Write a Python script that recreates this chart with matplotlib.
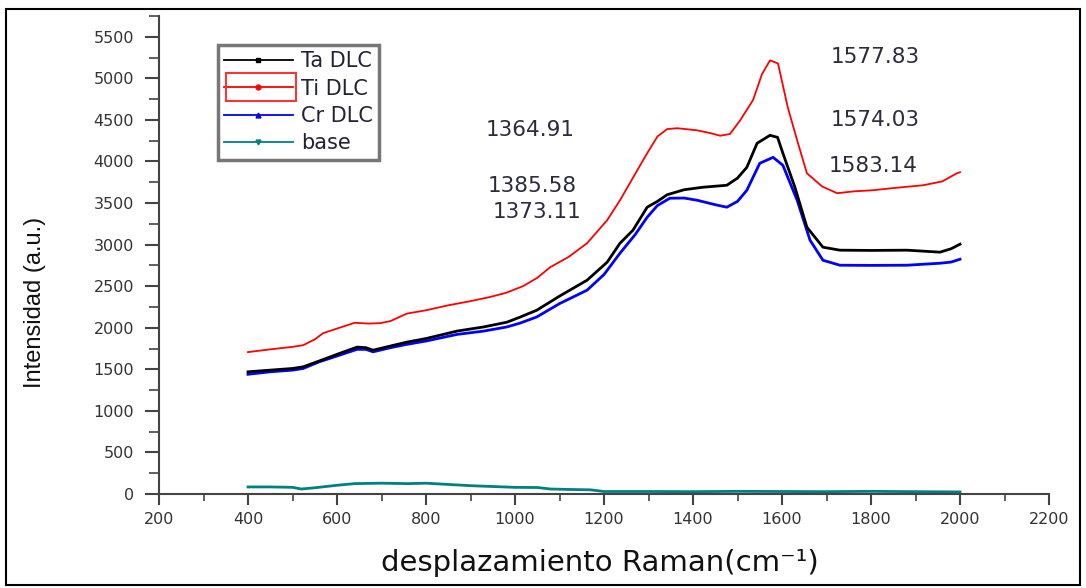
import matplotlib
matplotlib.use("Agg")
import matplotlib.pyplot as plt
from matplotlib.lines import Line2D
from matplotlib.patches import Rectangle
from matplotlib.ticker import MultipleLocator

# espectros Raman (cm-1, intensidad)
ta_x = [400, 450, 500, 524, 560, 600, 645, 665, 681, 720, 757, 800, 870, 930, 982, 1011,
        1049, 1100, 1162, 1207, 1236, 1265, 1297, 1320, 1342, 1380, 1422, 1476, 1500, 1521,
        1544, 1573, 1590, 1602, 1629, 1656, 1692, 1730, 1800, 1881, 1955, 1980, 2000]
ta_y = [1470, 1490, 1510, 1530, 1600, 1680, 1767, 1760, 1730, 1780, 1827, 1870, 1960, 2010,
        2067, 2127, 2211, 2380, 2572, 2788, 3017, 3173, 3450, 3520, 3600, 3660, 3690, 3714,
        3800, 3930, 4219, 4315, 4290, 4099, 3690, 3209, 2969, 2933, 2930, 2933, 2909, 2950, 3005]

ti_x = [400, 450, 500, 524, 550, 569, 600, 640, 670, 697, 720, 757, 800, 850, 900, 944, 980,
        1018, 1050, 1079, 1120, 1162, 1207, 1236, 1270, 1297, 1320, 1342, 1365, 1409, 1440,
        1461, 1483, 1506, 1535, 1555, 1573, 1591, 1613, 1634, 1656, 1690, 1724, 1760, 1804,
        1850, 1917, 1960, 1993, 2000]
ti_y = [1707, 1740, 1770, 1790, 1860, 1935, 1990, 2060, 2050, 2055, 2080, 2170, 2210, 2270,
        2320, 2370, 2420, 2500, 2600, 2728, 2850, 3017, 3293, 3534, 3850, 4099, 4300, 4390,
        4400, 4375, 4340, 4310, 4330, 4495, 4740, 5050, 5216, 5180, 4651, 4255, 3858, 3700,
        3618, 3640, 3654, 3680, 3714, 3760, 3858, 3870]

cr_x = [400, 450, 500, 524, 560, 600, 645, 665, 681, 720, 757, 800, 870, 930, 982, 1011,
        1049, 1100, 1162, 1200, 1236, 1270, 1297, 1320, 1348, 1380, 1409, 1450, 1476, 1500,
        1521, 1550, 1580, 1602, 1634, 1663, 1692, 1730, 1800, 1881, 1955, 1980, 2000]
cr_y = [1440, 1470, 1490, 1510, 1590, 1660, 1740, 1740, 1710, 1760, 1800, 1840, 1920, 1960,
        2010, 2055, 2130, 2290, 2452, 2640, 2897, 3120, 3329, 3470, 3558, 3560, 3534, 3480,
        3450, 3520, 3654, 3978, 4050, 3954, 3534, 3053, 2812, 2752, 2750, 2752, 2776, 2790, 2824]

base_x = [400, 450, 500, 520, 550, 600, 640, 700, 760, 800, 850, 900, 950, 1000, 1050, 1080,
          1120, 1170, 1200, 1300, 1400, 1500, 1600, 1700, 1800, 1900, 2000]
base_y = [85, 85, 80, 60, 75, 105, 125, 130, 125, 130, 115, 100, 90, 80, 78, 60, 55, 50, 30,
          30, 28, 32, 30, 28, 32, 28, 25]

etiquetas = ["Ta DLC", "Ti DLC", "Cr DLC", "base"]
colores = ["#000000", "#ff0000", "#0000ff", "#008080"]
marcadores = ["s", "o", "^", "v"]

# posiciones de los picos D y G
picos_txt = ["1577.83", "1574.03", "1583.14", "1364.91", "1385.58", "1373.11"]
picos_x = [1809, 1809, 1804, 1034, 1038, 1049]
picos_y = [5252, 4495, 3942, 4375, 3702, 3390]

fig = plt.figure(figsize=(10.86, 5.88), dpi=100)
ax = fig.add_axes([159 / 1086, 94 / 588, 890 / 1086, 478 / 588])

ax.plot(base_x, base_y, color=colores[3], lw=2)
ax.plot(cr_x, cr_y, color=colores[2], lw=2)
ax.plot(ta_x, ta_y, color=colores[0], lw=2)
ax.plot(ti_x, ti_y, color=colores[1], lw=1.3)

ax.set_xlim(200, 2200)
ax.set_ylim(0, 5750)
ax.xaxis.set_major_locator(MultipleLocator(200))
ax.xaxis.set_minor_locator(MultipleLocator(100))
ax.yaxis.set_major_locator(MultipleLocator(500))
ax.yaxis.set_minor_locator(MultipleLocator(250))

for s in ["top", "right"]:
    ax.spines[s].set_visible(False)
for s in ["left", "bottom"]:
    ax.spines[s].set_color("#444444")
    ax.spines[s].set_linewidth(1.5)

ax.tick_params(axis="y", which="major", direction="out", length=10, width=1.5,
               color="#444444", pad=8, labelsize=11.5, labelcolor="#333333")
ax.tick_params(axis="y", which="minor", direction="out", length=7, width=1.2, color="#444444")
ax.tick_params(axis="x", which="major", direction="out", length=8, width=1.5,
               color="#444444", pad=5, labelsize=11.5, labelcolor="#333333")
ax.tick_params(axis="x", which="minor", direction="out", length=5, width=1.2, color="#444444")

for t, x, y in zip(picos_txt, picos_x, picos_y):
    ax.text(x, y, t, ha="center", va="center", fontsize=15.5, color="#2b2b3b")

fig.text(35 / 1086, 1 - 302 / 588, "Intensidad (a.u.)", rotation=90, ha="center",
         va="center", fontsize=17, family="Liberation Sans", color="#111111")
fig.text(600 / 1086, 1 - 563 / 588, "desplazamiento Raman(cm⁻¹)", ha="center",
         va="center", fontsize=21, color="#111111")

handles = [Line2D([], [], color=c, lw=1.3, marker=m, ms=3.5) for c, m in zip(colores, marcadores)]
leg = ax.legend(handles, etiquetas, loc="upper left", bbox_to_anchor=(0.066, 0.939),
                borderaxespad=0, fontsize=15, handlelength=3.3, handletextpad=0.4,
                labelspacing=0.35, borderpad=0.3, frameon=True, fancybox=False)
leg.get_frame().set_edgecolor("#555555")
leg.get_frame().set_linewidth(2.5)
for txt in leg.get_texts():
    txt.set_color("#222233")

# recuadro rojo sobre la muestra de Ti DLC
fig.canvas.draw()
bb = leg.get_lines()[1].get_window_extent(fig.canvas.get_renderer())
inv = fig.transFigure.inverted()
yc = (bb.y0 + bb.y1) / 2
(x0, y0), (x1, y1) = inv.transform([(bb.x0 + 4, yc - 14), (bb.x1 + 1, yc + 14)])
fig.add_artist(Rectangle((x0, y0), x1 - x0, y1 - y0, transform=fig.transFigure,
                         fill=False, edgecolor="#ff3333", lw=1.5))

# marco exterior
fig.add_artist(Rectangle((6 / 1086, 3 / 588), 1074 / 1086, 576 / 588, transform=fig.transFigure,
                         fill=False, edgecolor="black", lw=1.5))

fig.savefig("out.png", dpi=100)
